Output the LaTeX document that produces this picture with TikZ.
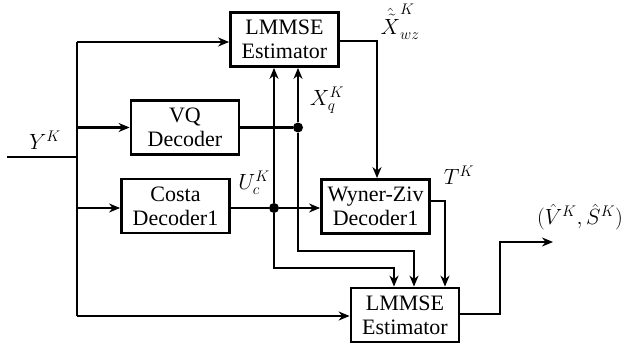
\documentclass[tikz,border=0pt]{standalone}
\usepackage{fix-cm}
\usepackage{fontspec}
\setmainfont{Liberation Serif}
\usetikzlibrary{arrows.meta,calc}
\begin{document}
\begin{tikzpicture}[x=1pt,y=-1pt,
  every node/.style={font=\fontsize{22}{24}\selectfont},
  blk/.style={draw,line width=2.8pt,minimum width=108pt,minimum height=54pt,align=center,inner sep=0pt},
  wire/.style={line width=2.8pt},
  arr/.style={wire,-{Stealth[length=11pt,width=9pt,inset=3.5pt]}},
  dotn/.style={circle,fill,inner sep=0pt,minimum size=10pt},
  lbl/.style={inner sep=0pt}]
\useasboundingbox (0,0) rectangle (631,350);
% blocks
\node[blk] (lmtop) at (284.5,39.5) {LMMSE\\Estimator};
\node[blk] (vq) at (185,127.5) {VQ\\Decoder};
\node[blk] (costa) at (175.5,206) {Costa\\Decoder1};
\node[blk] (wz) at (375.5,206.5) {Wyner-Ziv\\Decoder1};
\node[blk] (lmbot) at (405,315) {LMMSE\\Estimator};
% coordinates
\coordinate (in) at (7,157);
\coordinate (tin) at (77,157);
\coordinate (t1) at (77,42);
\coordinate (t2) at (77,127.5);
\coordinate (t3) at (77,208);
\coordinate (t4) at (77,316);
\node[dotn] (dA) at (298,127.5) {};
\node[dotn] (dB) at (274,208) {};
\coordinate (a1) at (298,251);
\coordinate (a2) at (414,251);
\coordinate (b1) at (274,268);
\coordinate (b2) at (394,268);
\coordinate (c1) at (377,41);
\coordinate (w1) at (445,201);
\coordinate (o1) at (500,314);
\coordinate (o2) at (500,242);
\coordinate (o3) at (553,242);
% input trunk
\draw[wire] (in) -- (tin);
\draw[wire] (t1) -- (t4);
\draw[arr] (t1) -- (t1 -| lmtop.west);
\draw[arr] (t2) -- (t2 -| vq.west);
\draw[arr] (t3) -- (t3 -| costa.west);
\draw[arr] (t4) -- (t4 -| lmbot.west);
% VQ output
\draw[wire] (vq.east |- dA) -- (dA);
\draw[arr] (dA) -- (dA |- lmtop.south);
\draw[arr] (dA) -- (a1) -- (a2) -- (a2 |- lmbot.north);
% Costa output
\draw[wire] (costa.east |- dB) -- (dB);
\draw[arr] (dB) -- (dB |- lmtop.south);
\draw[arr] (dB) -- (dB -| wz.west);
\draw[arr] (dB) -- (b1) -- (b2) -- (b2 |- lmbot.north);
% LMMSE top output
\draw[arr] (c1 -| lmtop.east) -- (c1) -- (c1 |- wz.north);
% WZ output
\draw[arr] (w1 -| wz.east) -- (w1) -- (w1 |- lmbot.north);
% final output
\draw[arr] (o1 -| lmbot.east) -- (o1) -- (o2) -- (o3);
% labels
\node[lbl] (lY) at (45,140) {$Y^K$};
\node[lbl] (lX) at (400,22) {$\hat{\tilde{X}}_{wz}^K$};
\node[lbl] (lXq) at (327,100) {$X_q^K$};
\node[lbl] (lU) at (254,183) {$U_c^K$};
\node[lbl] (lT) at (459,175) {$T^K$};
\node[lbl] (lO) at (580,217) {$(\hat V^K,\hat S^K)$};
\end{tikzpicture}
\end{document}
